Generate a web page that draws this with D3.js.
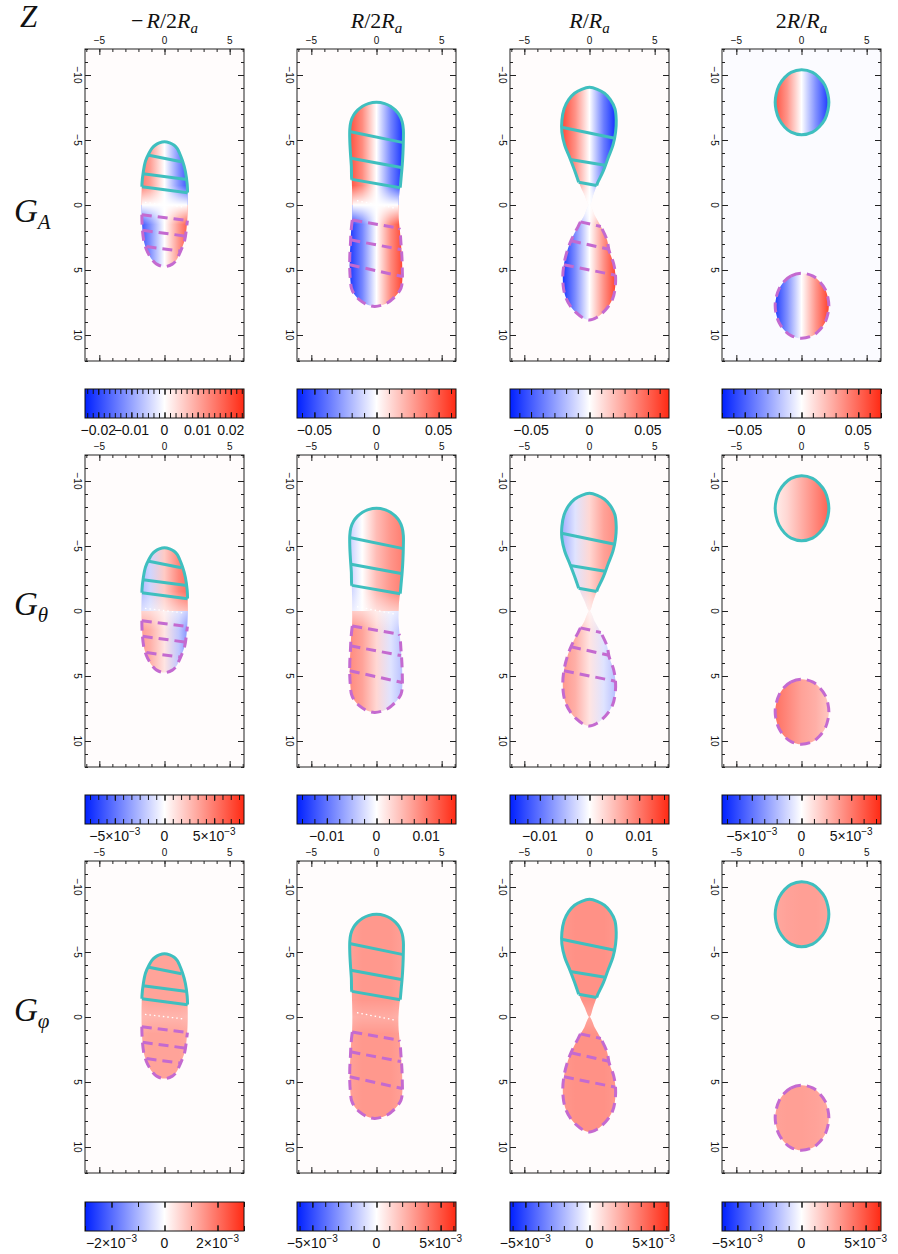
<!DOCTYPE html>
<html><head><meta charset="utf-8">
<script src="https://cdn.jsdelivr.net/npm/d3@7"></script>
<style>body{margin:0;background:#fff;}svg{display:block;}</style>
</head><body>
<svg id="chart" width="898" height="1254"></svg>
<script>
// ---------------- data ----------------
const columnTitles = ["−R/2R_a", "R/2R_a", "R/R_a", "2R/R_a"];
const rowLabels = ["G_A", "G_θ", "G_φ"];
const xTicks = [-5, 0, 5];
const yTicks = [-10, -5, 0, 5, 10];
const xDomain = [-6.1, 6.1];
const yDomain = [-12, 12];

// shape outlines (x of left / right edge at height z)
const col1Z = [-4.87,-4.78,-4.6,-4.35,-4.0,-3.4,-2.6,-1.6,0,1.5,2.7,3.4,3.9,4.25,4.55,4.74];
const col1L = [0,-0.4,-0.72,-0.97,-1.18,-1.45,-1.62,-1.73,-1.76,-1.72,-1.6,-1.4,-1.15,-0.92,-0.6,0];
const col1R = [0,0.4,0.74,0.97,1.15,1.38,1.6,1.74,1.78,1.72,1.55,1.3,1.08,0.9,0.6,0];

const col2Z = [-7.9,-7.8,-7.6,-7.3,-6.9,-6.4,-5.8,-5.0,-4.0,-3.0,-2.0,-1.0,0,1.0,2.0,3.0,4.0,5.0,5.8,6.4,6.9,7.3,7.6,7.8];
const col2L = [0,-0.63,-1.07,-1.45,-1.76,-1.97,-2.05,-2.05,-2.0,-1.93,-1.9,-1.87,-1.85,-1.87,-1.95,-2.0,-2.05,-2.05,-2.0,-1.92,-1.68,-1.3,-0.85,-0.15];
const col2R = [0,0.63,1.07,1.45,1.76,1.97,2.06,2.06,2.03,1.97,1.88,1.76,1.68,1.7,1.8,1.88,1.95,1.98,1.98,1.88,1.55,1.15,0.7,-0.15];

const col3UpZ = [-9.05,-8.9,-8.6,-8.1,-7.4,-6.5,-5.6,-4.6,-3.6,-2.6,-1.7,-0.8,0];
const col3UpL = [0,-0.6,-1.15,-1.6,-1.95,-2.12,-2.12,-1.9,-1.5,-1.12,-0.8,-0.4,0];
const col3UpR = [0,0.6,1.15,1.6,1.95,2.05,2.0,1.8,1.42,1.05,0.62,0.3,0];
const col3LoZ = [0,0.8,1.6,2.7,3.5,4.5,5.5,6.5,7.2,7.8,8.3,8.65,8.85];
const col3LoL = [0,-0.4,-0.85,-1.4,-1.7,-1.95,-2.05,-1.98,-1.78,-1.45,-1.0,-0.55,0];
const col3LoR = [0,0.4,0.85,1.35,1.5,1.85,2.0,1.95,1.78,1.45,1.0,0.55,0];

const col4UpZ = [-10.4,-10.2,-9.8,-9.2,-8.5,-7.9,-7.3,-6.6,-6.0,-5.6,-5.4];
const col4LoZ = [5.25,5.45,5.85,6.45,7.15,7.75,8.35,9.05,9.65,10.05,10.25];
const col4L = [0,-0.8,-1.3,-1.72,-1.95,-2.02,-1.95,-1.72,-1.3,-0.8,0];
const col4R = [0.05,0.85,1.35,1.8,2.03,2.1,2.03,1.8,1.35,0.85,0.05];

// solid (teal) and dashed (magenta) field lines: [[x1,z1],[x2,z2]]
const col1Teal = [[[-1.3,-3.85],[1.3,-3.33]], [[-1.65,-2.4],[1.72,-1.97]], [[-1.73,-1.4],[1.77,-0.95]]];
const col1Mag  = [[[-1.74,0.75],[1.76,1.2]], [[-1.67,1.95],[1.65,2.4]], [[-1.38,3.2],[1.28,3.55]]];
const col2Teal = [[[-1.98,-5.63],[2.06,-4.8]], [[-1.95,-3.6],[2.0,-2.87]], [[-1.88,-1.97],[1.82,-1.33]]];
const col2Mag  = [[[-1.86,1.15],[1.73,1.78]], [[-2.0,2.68],[1.88,3.43]], [[-2.05,4.6],[1.98,5.5]]];
const col3Teal = [[[-2.14,-5.98],[1.93,-5.13]], [[-1.48,-3.5],[1.2,-3.05]], [[-0.83,-1.75],[0.55,-1.5]]];
const col3Mag  = [[[-0.7,1.3],[0.87,1.65]], [[-1.42,2.75],[1.48,3.4]], [[-1.96,4.6],[1.98,5.4]]];
const zeroLine1 = [[-1.5,-0.2],[1.5,0.15]];
const zeroLine2 = [[-1.5,-0.33],[1.4,0.23]];

// field values across each lobe at x = -2.2, -1.1, 0, 1.1, 2.2
const gaUpper = [[0.017,0.011,0,-0.012,-0.022],[0.055,0.035,0,-0.035,-0.062],[0.06,0.035,0,-0.04,-0.07],[0.06,0.035,0,-0.035,-0.065]];
const gaLower = [[-0.022,-0.012,0,0.012,0.022],[-0.06,-0.035,0,0.035,0.06],[-0.065,-0.035,0,0.035,0.065],[-0.065,-0.035,0,0.035,0.065]];
const gtUpper = [[-0.003,-0.0015,0.002,0.0045,0.006],[-0.004,0,0.005,0.008,0.01],[-0.006,-0.002,0.003,0.007,0.009],[0.0005,0.0015,0.003,0.0045,0.006]];
const gtLower = [[0.004,0.003,0.001,-0.002,-0.005],[0.009,0.007,0.003,-0.002,-0.005],[0.008,0.006,0.002,-0.002,-0.005],[0.0055,0.0045,0.0035,0.003,0.002]];
const gpUpper = [[0.0012,0.0013,0.0013,0.0013,0.0012],[0.0027,0.003,0.003,0.003,0.0027],[0.003,0.0032,0.0032,0.0032,0.003],[0.0025,0.0027,0.0028,0.0028,0.0026]];
const gpLower = [[0.0012,0.0013,0.0013,0.0013,0.0012],[0.0027,0.003,0.003,0.003,0.0027],[0.003,0.0032,0.0032,0.0032,0.003],[0.0027,0.0028,0.0028,0.0027,0.0025]];
const bgValues = [[0.0003,0.0008,0.0008,-0.0012],[0.0001,0.0002,0.0002,0.0001],[0.00004,0.00008,0.00008,0.00008]];

// colour bars
const cbMax = [[0.024,0.064,0.068,0.07],[0.008,0.016,0.016,0.008],[0.003,0.0062,0.0062,0.0062]];
const cbStep = [[0.01/6,0.01,0.01,0.01],[0.005/6,0.0025,0.0025,0.00125],[0.001,0.001,0.001,0.001]];
const cbTickValues = [
  [[-0.02,-0.01,0,0.01,0.02],[-0.05,0,0.05],[-0.05,0,0.05],[-0.05,0,0.05]],
  [[-0.005,0,0.005],[-0.01,0,0.01],[-0.01,0,0.01],[-0.005,0,0.005]],
  [[-0.002,0,0.002],[-0.005,0,0.005],[-0.005,0,0.005],[-0.005,0,0.005]]];
const cbTickLabels = [
  [["−0.02","−0.01","0","0.01","0.02"],["−0.05","0","0.05"],["−0.05","0","0.05"],["−0.05","0","0.05"]],
  [["−5×10^−3","0","5×10^−3"],["−0.01","0","0.01"],["−0.01","0","0.01"],["−5×10^−3","0","5×10^−3"]],
  [["−2×10^−3","0","2×10^−3"],["−5×10^−3","0","5×10^−3"],["−5×10^−3","0","5×10^−3"],["−5×10^−3","0","5×10^−3"]]];

// ---------------- layout / style ----------------
const colX0 = [85, 297, 510, 722], rowY0 = [49, 455, 861];
const panelW = 159, panelH = 312;
const cbY0 = [389, 795, 1202], cbH = 29;
const cBlue = "#0020ff", cRed = "#ff2a14";
const tealColor = "#3fbfbf", magColor = "#c46ad0";
const tickColor = "#222";
const sansFont = "'Liberation Sans', Arial, sans-serif";
const serifFont = "'Liberation Serif', 'Times New Roman', serif";

const lobe = (z, l, r) => ({z, l, r});
const columns = [
  {lobes:[lobe(col1Z,col1L,col1R)], teal:col1Teal, mag:col1Mag, tealLobe:0, magLobe:0, zero:zeroLine1},
  {lobes:[lobe(col2Z,col2L,col2R)], teal:col2Teal, mag:col2Mag, tealLobe:0, magLobe:0, zero:zeroLine2},
  {lobes:[lobe(col3UpZ,col3UpL,col3UpR), lobe(col3LoZ,col3LoL,col3LoR)], teal:col3Teal, mag:col3Mag, tealLobe:0, magLobe:1, zero:null},
  {lobes:[lobe(col4UpZ,col4L,col4R), lobe(col4LoZ,col4L,col4R)], teal:[], mag:[], tealLobe:0, magLobe:1, zero:null}
];
const upperVals = [gaUpper, gtUpper, gpUpper];
const lowerVals = [gaLower, gtLower, gpLower];
const blend = [{w:1.5, peak:1.0},{w:1.5, peak:0.55},{w:1.3, peak:0.2}];

const svg = d3.select("#chart");
const defs = svg.append("defs");
const x = d3.scaleLinear().domain(xDomain).range([0, panelW]);
const y = d3.scaleLinear().domain(yDomain).range([0, panelH]);
const lineClosed = d3.line().x(d => x(d[0])).y(d => y(d[1])).curve(d3.curveCatmullRomClosed.alpha(0.5));
const lineOpen = d3.line().x(d => x(d[0])).y(d => y(d[1])).curve(d3.curveCatmullRom.alpha(0.5));
const lineStraight = d3.line().x(d => x(d[0])).y(d => y(d[1]));

function sidePts(lb, side) { return lb.z.map((z, i) => [side === "L" ? lb.l[i] : lb.r[i], z]); }
function lobePoly(lb) {
  const left = sidePts(lb, "L");
  const right = sidePts(lb, "R").slice(1, -1).reverse();
  return left.concat(right);
}
function tealPts(lb, cut) {
  const left = sidePts(lb, "L").filter(p => p[1] < cut[0][1]).reverse();
  const right = sidePts(lb, "R").filter(p => p[1] < cut[1][1]).slice(1);
  return [cut[0], ...left, ...right, cut[1]];
}
function magPts(lb, cut) {
  const left = sidePts(lb, "L").filter(p => p[1] > cut[0][1]);
  const right = sidePts(lb, "R").filter(p => p[1] > cut[1][1]).reverse().slice(1);
  return [cut[0], ...left, ...right, cut[1]];
}
function colourScale(m) {
  return d3.scaleLinear().domain([-m, 0, m]).range([cBlue, "#ffffff", cRed]).clamp(true).interpolate(d3.interpolateRgb);
}
function mathText(sel, str, subSize, subDy) {
  const chars = [...str];
  for (let i = 0; i < chars.length; i++) {
    const ch = chars[i];
    if (ch === "_") {
      const s = chars[++i];
      sel.append("tspan").attr("font-size", subSize).attr("font-style", "italic").attr("dy", subDy).text(s);
    } else {
      const it = /[A-Za-zθφ]/.test(ch);
      const t = sel.append("tspan").attr("font-style", it ? "italic" : "normal").text(ch);
      if (i > 0 && chars[i - 1] === "−") t.attr("dx", 3);
    }
  }
}
function supText(sel, str) {
  const parts = str.split("^");
  sel.append("tspan").text(parts[0]);
  if (parts.length > 1) sel.append("tspan").attr("font-size", 10).attr("dy", -6).text(parts[1]);
}

// ---------------- titles ----------------
svg.append("text").attr("x", 20).attr("y", 27).attr("font-family", serifFont)
  .attr("font-size", 31).attr("font-style", "italic").attr("fill", "#111").text("Z");
columnTitles.forEach((t, c) => {
  const tx = svg.append("text").attr("x", colX0[c] + x(0)).attr("y", 28)
    .attr("text-anchor", "middle").attr("font-family", serifFont).attr("font-size", 22).attr("fill", "#111");
  mathText(tx, t, 15, 5);
});
const rowBase = [222, 615, 1021];
rowLabels.forEach((t, r) => {
  const tx = svg.append("text").attr("x", 14).attr("y", rowBase[r])
    .attr("font-family", serifFont).attr("font-size", 33).attr("fill", "#111");
  mathText(tx, t, 21, 7);
});

// ---------------- panels ----------------
for (let r = 0; r < 3; r++) {
  for (let c = 0; c < 4; c++) {
    const col = columns[c];
    const cs = colourScale(cbMax[r][c]);
    const id = `p${r}${c}`;
    const g = svg.append("g").attr("transform", `translate(${colX0[c]},${rowY0[r]})`);

    const clip = defs.append("clipPath").attr("id", `clip-${id}`);
    col.lobes.forEach(lb => clip.append("path").attr("d", lineClosed(lobePoly(lb))));

    const gradX = [-2.2, -1.1, 0, 1.1, 2.2];
    [["u", upperVals[r][c]], ["l", lowerVals[r][c]]].forEach(([k, vals]) => {
      const gr = defs.append("linearGradient").attr("id", `g${k}-${id}`)
        .attr("gradientUnits", "userSpaceOnUse")
        .attr("x1", x(gradX[0])).attr("x2", x(gradX[4])).attr("y1", 0).attr("y2", 0);
      vals.forEach((v, i) => gr.append("stop").attr("offset", i / 4).attr("stop-color", cs(v)));
    });
    const b = blend[r];
    const gb = defs.append("linearGradient").attr("id", `gb-${id}`)
      .attr("gradientUnits", "userSpaceOnUse").attr("x1", 0).attr("x2", 0)
      .attr("y1", y(-b.w)).attr("y2", y(b.w));
    gb.append("stop").attr("offset", 0).attr("stop-color", "#fff").attr("stop-opacity", 0);
    gb.append("stop").attr("offset", 0.5).attr("stop-color", "#fff").attr("stop-opacity", b.peak);
    gb.append("stop").attr("offset", 1).attr("stop-color", "#fff").attr("stop-opacity", 0);

    g.append("rect").attr("width", panelW).attr("height", panelH).attr("fill", cs(bgValues[r][c]));
    const fg = g.append("g").attr("clip-path", `url(#clip-${id})`);
    fg.append("rect").attr("x", 0).attr("y", 0).attr("width", panelW).attr("height", y(0)).attr("fill", `url(#gu-${id})`);
    fg.append("rect").attr("x", 0).attr("y", y(0)).attr("width", panelW).attr("height", panelH - y(0)).attr("fill", `url(#gl-${id})`);
    fg.append("rect").attr("x", 0).attr("y", y(-b.w)).attr("width", panelW).attr("height", y(b.w) - y(-b.w)).attr("fill", `url(#gb-${id})`);

    if (col.zero) {
      g.append("path").attr("d", lineStraight(col.zero)).attr("fill", "none")
        .attr("stroke", "#fff").attr("stroke-width", 1.3).attr("stroke-dasharray", "1.5,3");
    }

    // teal (solid) contours
    const tl = col.lobes[col.tealLobe];
    const tealD = col.teal.length ? lineOpen(tealPts(tl, col.teal[col.teal.length - 1])) : lineClosed(lobePoly(tl));
    g.append("path").attr("d", tealD).attr("fill", "none").attr("stroke", tealColor)
      .attr("stroke-width", 3).attr("stroke-linejoin", "round");
    col.teal.forEach(s => g.append("path").attr("d", lineStraight(s)).attr("fill", "none")
      .attr("stroke", tealColor).attr("stroke-width", 3));

    // magenta (dashed) contours
    const ml = col.lobes[col.magLobe];
    const magD = col.mag.length ? lineOpen(magPts(ml, col.mag[0])) : lineClosed(lobePoly(ml));
    g.append("path").attr("d", magD).attr("fill", "none").attr("stroke", magColor)
      .attr("stroke-width", 3).attr("stroke-dasharray", "10,6");
    col.mag.forEach(s => g.append("path").attr("d", lineStraight(s)).attr("fill", "none")
      .attr("stroke", magColor).attr("stroke-width", 3).attr("stroke-dasharray", "10,6"));

    // axes (inward ticks on all sides)
    const xMinor = d3.range(-6, 7, 1), yMinor = d3.range(-12, 13, 1);
    const addAxis = (gen, tr, vals, size) => {
      const a = g.append("g").attr("transform", tr)
        .call(gen.tickValues(vals).tickSize(size).tickFormat(""));
      a.select(".domain").remove();
      a.selectAll("line").attr("stroke", tickColor);
    };
    addAxis(d3.axisTop(x), "translate(0,0)", xMinor, -3);
    addAxis(d3.axisTop(x), "translate(0,0)", xTicks, -6);
    addAxis(d3.axisBottom(x), `translate(0,${panelH})`, xMinor, -3);
    addAxis(d3.axisBottom(x), `translate(0,${panelH})`, xTicks, -6);
    addAxis(d3.axisLeft(y), "translate(0,0)", yMinor, -3);
    addAxis(d3.axisLeft(y), "translate(0,0)", yTicks, -6);
    addAxis(d3.axisRight(y), `translate(${panelW},0)`, yMinor, -3);
    addAxis(d3.axisRight(y), `translate(${panelW},0)`, yTicks, -6);
    g.append("rect").attr("width", panelW).attr("height", panelH).attr("fill", "none")
      .attr("stroke", tickColor).attr("stroke-width", 1);

    const fmt = d3.format("d");
    g.selectAll(".xl").data(xTicks).join("text").attr("x", d => x(d)).attr("y", -5)
      .attr("text-anchor", "middle").attr("font-family", sansFont).attr("font-size", 10).attr("fill", "#111")
      .text(d => fmt(d));
    g.selectAll(".yl").data(yTicks).join("text")
      .attr("transform", d => `translate(-8,${y(d)}) rotate(90)`)
      .attr("text-anchor", "middle").attr("dy", "0.35em").attr("font-family", sansFont)
      .attr("font-size", 10).attr("fill", "#111").text(d => fmt(d));

    // colour bar
    const m = cbMax[r][c];
    const cx = d3.scaleLinear().domain([-m, m]).range([0, panelW]);
    const cb = svg.append("g").attr("transform", `translate(${colX0[c]},${cbY0[r]})`);
    const cg = defs.append("linearGradient").attr("id", `cb-${id}`).attr("gradientUnits", "userSpaceOnUse")
      .attr("x1", 0).attr("x2", panelW).attr("y1", 0).attr("y2", 0);
    const nStops = 10;
    d3.range(nStops + 1).forEach(i => cg.append("stop").attr("offset", i / nStops)
      .attr("stop-color", cs(cx.invert(i / nStops * panelW))));
    cb.append("rect").attr("width", panelW).attr("height", cbH).attr("fill", `url(#cb-${id})`);
    const st = cbStep[r][c];
    const minorVals = d3.range(Math.ceil(-m / st - 1e-9), Math.floor(m / st + 1e-9) + 1).map(k => k * st);
    const cbAxis = (gen, tr, vals, size) => {
      const a = cb.append("g").attr("transform", tr).call(gen.tickValues(vals).tickSize(size).tickFormat(""));
      a.select(".domain").remove();
      a.selectAll("line").attr("stroke", "#111");
    };
    cbAxis(d3.axisTop(cx), "translate(0,0)", minorVals, -5);
    cbAxis(d3.axisBottom(cx), `translate(0,${cbH})`, minorVals, -5);
    cbAxis(d3.axisTop(cx), "translate(0,0)", cbTickValues[r][c], -6);
    cbAxis(d3.axisBottom(cx), `translate(0,${cbH})`, cbTickValues[r][c], -6);
    cb.append("rect").attr("width", panelW).attr("height", cbH).attr("fill", "none").attr("stroke", "#111");
    cbTickValues[r][c].forEach((v, i) => {
      const t = cb.append("text").attr("x", cx(v)).attr("y", cbH + 17).attr("text-anchor", "middle")
        .attr("font-family", sansFont).attr("font-size", 14).attr("fill", "#111");
      supText(t, cbTickLabels[r][c][i]);
    });
  }
}
</script>
</body></html>
